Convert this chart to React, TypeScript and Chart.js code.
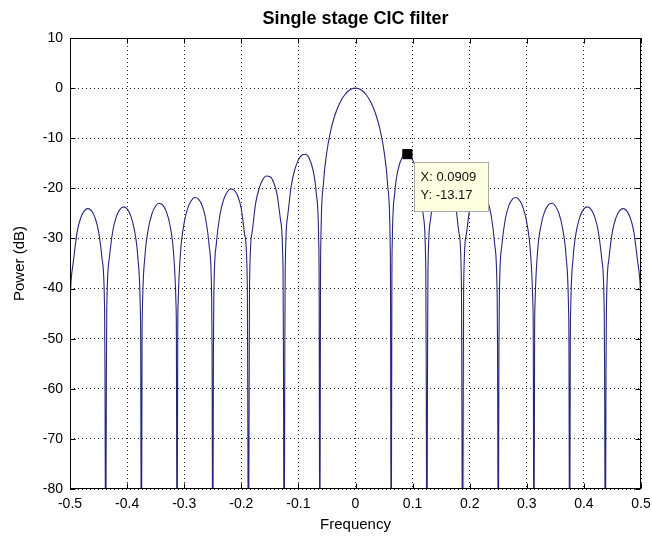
import { useEffect, useRef } from 'react';
import { Chart, registerables } from 'chart.js';

Chart.register(...registerables);

const FONT = '"Liberation Sans", Arial, Helvetica, sans-serif';

const chartTitle = 'Single stage CIC filter';
const xAxisTitle = 'Frequency';
const yAxisTitle = 'Power (dB)';

const xTicks = [-0.5, -0.4, -0.3, -0.2, -0.1, 0, 0.1, 0.2, 0.3, 0.4, 0.5];
const xTickLabels = ['-0.5', '-0.4', '-0.3', '-0.2', '-0.1', '0', '0.1', '0.2', '0.3', '0.4', '0.5'];
const yTicks = [-80, -70, -60, -50, -40, -30, -20, -10, 0, 10];
const yTickLabels = ['-80', '-70', '-60', '-50', '-40', '-30', '-20', '-10', '0', '10'];

// Negative-frequency half
const freqNegative = [
  -0.5, -0.4981, -0.49375, -0.4875, -0.48125, -0.475, -0.46875, -0.4625, -0.45625, -0.45, -0.44375,
  -0.4394, -0.4387, -0.4375, -0.4363, -0.4356, -0.43125, -0.425, -0.41875, -0.4125, -0.40625, -0.4, -0.39375, -0.3875, -0.38125,
  -0.3769, -0.3762, -0.375, -0.3738, -0.3731, -0.36875, -0.3625, -0.35625, -0.35, -0.34375, -0.3375, -0.33125, -0.325, -0.31875,
  -0.3144, -0.3137, -0.3125, -0.3113, -0.3106, -0.30625, -0.3, -0.29375, -0.2875, -0.28125, -0.275, -0.26875, -0.2625, -0.25625,
  -0.2519, -0.2512, -0.25, -0.2488, -0.2481, -0.24375, -0.2375, -0.23125, -0.225, -0.21875, -0.2125, -0.20625, -0.2, -0.19375,
  -0.1894, -0.1887, -0.1875, -0.1863, -0.1856, -0.18125, -0.175, -0.16875, -0.1625, -0.15625, -0.15, -0.14375, -0.1375, -0.13125,
  -0.1269, -0.1262, -0.125, -0.1238, -0.1231, -0.11875, -0.1125, -0.10625, -0.1, -0.09375, -0.0875, -0.08125, -0.075, -0.06875,
  -0.0644, -0.0637, -0.0625, -0.0613, -0.0606, -0.05625, -0.05, -0.04375, -0.0375, -0.03125, -0.025, -0.01875, -0.0125, -0.00625,
];
const powerNegative = [
  -43.0, -38.5, -34.28, -28.69, -25.9, -24.49, -24.04, -24.46, -25.84, -28.59, -34.14,
  -44.45, -57.1, -100, -57.1, -44.43, -34.08, -28.46, -25.63, -24.19, -23.7, -24.08, -25.43, -28.15, -33.66,
  -43.94, -50.5, -100, -50.5, -43.9, -33.52, -27.86, -25.0, -23.52, -22.99, -23.34, -24.64, -27.32, -32.79,
  -43.04, -48.4, -100, -48.4, -42.97, -32.56, -26.86, -23.95, -22.42, -21.84, -22.14, -23.39, -26.02, -31.43,
  -41.65, -51.9, -100, -51.9, -41.55, -31.09, -25.34, -22.37, -20.77, -20.13, -20.35, -21.54, -24.08, -29.42,
  -39.58, -61.7, -100, -61.7, -39.43, -28.91, -23.06, -20.0, -18.3, -17.55, -17.66, -18.72, -21.14, -26.34,
  -36.39, -52.8, -100, -52.8, -36.14, -25.51, -19.48, -16.23, -14.32, -13.34, -13.19, -13.96, -16.06, -20.9,
  -30.67, -38.7, -100, -38.7, -30.15, -19.18, -12.59, -8.66, -5.92, -3.91, -2.41, -1.32, -0.58, -0.14,
];

// Zero and positive-frequency half
const freqPositive = [
  0, 0.00625, 0.0125, 0.01875, 0.025, 0.03125, 0.0375, 0.04375, 0.05, 0.05625, 0.0606, 0.0613, 0.0625, 0.0637, 0.0644,
  0.06875, 0.075, 0.08125, 0.0875, 0.09375, 0.1, 0.10625, 0.1125, 0.11875, 0.1231, 0.1238, 0.125, 0.1262, 0.1269,
  0.13125, 0.1375, 0.14375, 0.15, 0.15625, 0.1625, 0.16875, 0.175, 0.18125, 0.1856, 0.1863, 0.1875, 0.1887, 0.1894,
  0.19375, 0.2, 0.20625, 0.2125, 0.21875, 0.225, 0.23125, 0.2375, 0.24375, 0.2481, 0.2488, 0.25, 0.2512, 0.2519,
  0.25625, 0.2625, 0.26875, 0.275, 0.28125, 0.2875, 0.29375, 0.3, 0.30625, 0.3106, 0.3113, 0.3125, 0.3137, 0.3144,
  0.31875, 0.325, 0.33125, 0.3375, 0.34375, 0.35, 0.35625, 0.3625, 0.36875, 0.3731, 0.3738, 0.375, 0.3762, 0.3769,
  0.38125, 0.3875, 0.39375, 0.4, 0.40625, 0.4125, 0.41875, 0.425, 0.43125, 0.4356, 0.4363, 0.4375, 0.4387, 0.4394,
  0.44375, 0.45, 0.45625, 0.4625, 0.46875, 0.475, 0.48125, 0.4875, 0.49375, 0.4981, 0.5,
];
const powerPositive = [
  0, -0.14, -0.58, -1.32, -2.41, -3.91, -5.92, -8.66, -12.59, -19.18, -30.15, -38.7, -100, -38.7, -30.67,
  -20.9, -16.06, -13.96, -13.19, -13.34, -14.32, -16.23, -19.48, -25.51, -36.14, -52.8, -100, -52.8, -36.39,
  -26.34, -21.14, -18.72, -17.66, -17.55, -18.3, -20.0, -23.06, -28.91, -39.43, -61.7, -100, -61.7, -39.58,
  -29.42, -24.08, -21.54, -20.35, -20.13, -20.77, -22.37, -25.34, -31.09, -41.55, -51.9, -100, -51.9, -41.65,
  -31.43, -26.02, -23.39, -22.14, -21.84, -22.42, -23.95, -26.86, -32.56, -42.97, -48.4, -100, -48.4, -43.04,
  -32.79, -27.32, -24.64, -23.34, -22.99, -23.52, -25.0, -27.86, -33.52, -43.9, -50.5, -100, -50.5, -43.94,
  -33.66, -28.15, -25.43, -24.08, -23.7, -24.19, -25.63, -28.46, -34.08, -44.43, -57.1, -100, -57.1, -44.45,
  -34.14, -28.59, -25.84, -24.46, -24.04, -24.49, -25.9, -28.69, -34.28, -38.5, -43.0,
];

// Data tip
const tipX = 0.0909;
const tipY = -13.17;
const tipLabels = ['X: 0.0909', 'Y: -13.17'];

const decorations = {
  id: 'decorations',
  afterDatasetsDraw(chart: any) {
    const { ctx, chartArea: a, scales } = chart;
    const xs = scales.x;
    const ys = scales.y;
    ctx.save();
    ctx.strokeStyle = '#000';
    ctx.lineWidth = 1;
    const L = Math.round(a.left) + 0.5;
    const R = Math.round(a.right) - 0.5;
    const T = Math.round(a.top) + 0.5;
    const B = Math.round(a.bottom) - 0.5;
    ctx.strokeRect(L, T, R - L, B - T);
    const tl = 5;
    ctx.beginPath();
    xTicks.forEach((v) => {
      const px = Math.round(xs.getPixelForValue(v)) + 0.5;
      ctx.moveTo(px, B);
      ctx.lineTo(px, B - tl);
      ctx.moveTo(px, T);
      ctx.lineTo(px, T + tl);
    });
    yTicks.forEach((v) => {
      const py = Math.round(ys.getPixelForValue(v)) + 0.5;
      ctx.moveTo(L, py);
      ctx.lineTo(L + tl, py);
      ctx.moveTo(R, py);
      ctx.lineTo(R - tl, py);
    });
    ctx.stroke();
    ctx.restore();
  },
  afterDraw(chart: any) {
    const { ctx, chartArea: a, scales } = chart;
    ctx.save();
    // title
    ctx.fillStyle = '#000';
    ctx.font = `bold 18px ${FONT}`;
    ctx.textAlign = 'center';
    ctx.textBaseline = 'middle';
    ctx.fillText(chartTitle, (a.left + a.right) / 2, 19);
    // data tip box
    const px = scales.x.getPixelForValue(tipX);
    const py = scales.y.getPixelForValue(tipY);
    const bx = Math.round(px + 6.5) + 0.5;
    const by = Math.round(py + 8) + 0.5;
    const bw = 74;
    const bh = 49;
    ctx.fillStyle = '#ffffe1';
    ctx.fillRect(bx, by, bw, bh);
    ctx.strokeStyle = '#a8a8a0';
    ctx.lineWidth = 1;
    ctx.strokeRect(bx, by, bw, bh);
    ctx.fillStyle = '#111';
    ctx.font = `13px ${FONT}`;
    ctx.textAlign = 'left';
    ctx.textBaseline = 'middle';
    ctx.fillText(tipLabels[0], bx + 6, by + 14.5);
    ctx.fillText(tipLabels[1], bx + 6, by + 32.5);
    ctx.restore();
  },
};

export default function App() {
  const ref = useRef<HTMLCanvasElement>(null);
  useEffect(() => {
    const freq = [...freqNegative, ...freqPositive];
    const power = [...powerNegative, ...powerPositive];
    const curve = freq.map((f, i) => ({ x: f, y: power[i] }));
    const chart = new Chart(ref.current!, {
      type: 'line',
      data: {
        datasets: [
          {
            data: [{ x: tipX, y: tipY }],
            showLine: false,
            pointStyle: 'rect',
            pointRadius: 6.5,
            backgroundColor: '#000',
            borderColor: '#000',
            borderWidth: 1,
            order: 0,
            clip: false as any,
          },
          {
            data: curve,
            borderColor: '#262680',
            borderWidth: 1.1,
            pointRadius: 0,
            fill: false,
            cubicInterpolationMode: 'monotone',
            order: 1,
          },
        ],
      },
      options: {
        responsive: false,
        animation: false,
        events: [],
        layout: { padding: { top: 38, right: 11, left: 0, bottom: 0 } },
        plugins: { legend: { display: false }, tooltip: { enabled: false }, title: { display: false } },
        scales: {
          x: {
            type: 'linear',
            min: -0.5,
            max: 0.5,
            afterBuildTicks: (s: any) => {
              s.ticks = xTicks.map((value) => ({ value }));
            },
            afterFit: (s: any) => {
              s.height = 48;
              s.paddingLeft = 0;
              s.paddingRight = 0;
            },
            ticks: {
              autoSkip: false,
              maxRotation: 0,
              minRotation: 0,
              padding: 7,
              color: '#000',
              font: { family: FONT, size: 14 },
              callback: (_v: any, i: number) => xTickLabels[i],
            },
            grid: { color: 'rgba(0,0,0,0.85)', lineWidth: 1, drawTicks: false },
            border: { display: false, dash: [1, 3] },
            title: {
              display: true,
              text: xAxisTitle,
              color: '#000',
              font: { family: FONT, size: 15 },
              padding: { top: 0, bottom: 3 },
            },
          },
          y: {
            type: 'linear',
            min: -80,
            max: 10,
            afterBuildTicks: (s: any) => {
              s.ticks = yTicks.map((value) => ({ value }));
            },
            afterFit: (s: any) => {
              s.width = 70;
              s.paddingTop = 0;
              s.paddingBottom = 0;
            },
            ticks: {
              padding: 7,
              color: '#000',
              font: { family: FONT, size: 14 },
              callback: (_v: any, i: number) => yTickLabels[i],
            },
            grid: { color: 'rgba(0,0,0,0.85)', lineWidth: 1, drawTicks: false },
            border: { display: false, dash: [1, 3] },
            title: {
              display: true,
              text: yAxisTitle,
              color: '#000',
              font: { family: FONT, size: 15 },
              padding: { top: 11, bottom: 0 },
            },
          },
        },
      },
      plugins: [decorations],
    });
    return () => chart.destroy();
  }, []);
  return (
    <div style={{ position: 'absolute', left: 0, top: 0, width: 652, height: 537, background: '#fff' }}>
      <canvas ref={ref} width={652} height={537} style={{ display: 'block', width: 652, height: 537 }} />
    </div>
  );
}
